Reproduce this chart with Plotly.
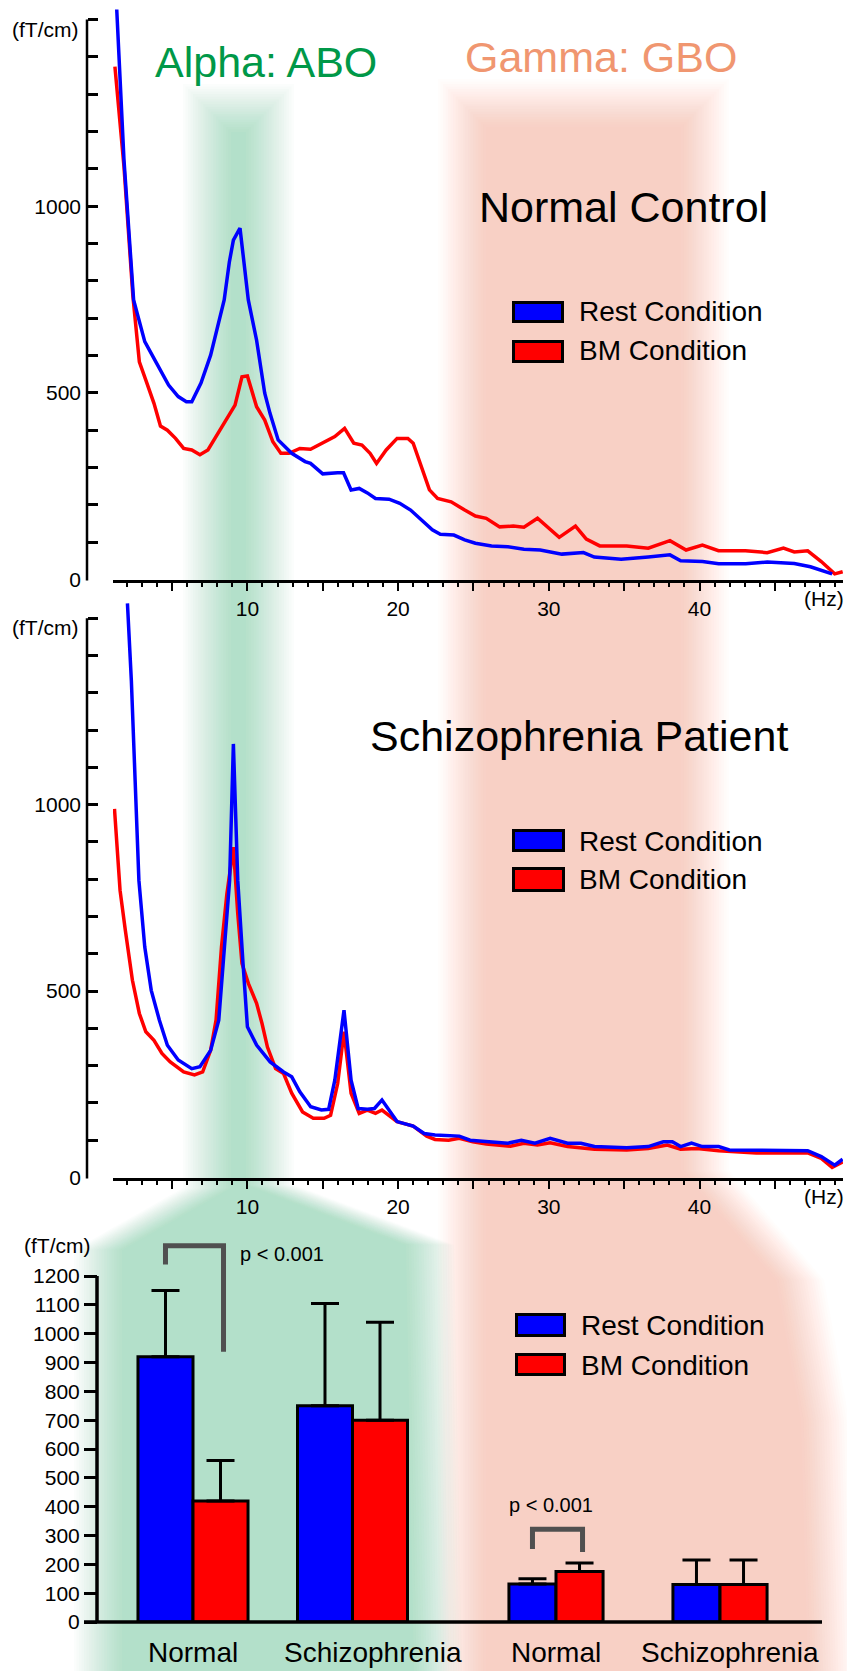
import plotly.graph_objects as go

W, H = 847, 1671
FIG_H = 1682  # rendered height; all vertical placement below is in paper fractions of H
FONT = "Liberation Sans, Arial, Helvetica, sans-serif"

# ---------------- data ----------------
# Normal Control spectra (Hz, fT/cm)
nc_rest_hz = [1.33, 1.81, 2.45, 3.19, 3.98, 4.77, 5.41, 5.95, 6.31, 6.92, 7.56, 8.10, 8.46, 8.80, 9.07, 9.51,
              10.06, 10.61, 11.15, 11.50, 12.04, 12.94, 13.83, 14.19, 15.00, 15.99, 16.38, 16.88, 17.42, 17.96,
              18.50, 19.40, 20.11, 20.83, 21.55, 22.27, 22.80, 23.70, 24.42, 25.13, 26.20, 27.28, 28.35, 29.43,
              30.87, 32.30, 33.02, 34.80, 36.60, 38.04, 38.75, 40.20, 41.27, 43.07, 44.50, 46.29, 47.36, 48.80]
nc_rest_val = [1527, 1124, 749, 637, 579, 521, 490, 476, 476, 526, 601, 686, 749, 850, 909, 941,
               749, 641, 499, 445, 374, 338, 316, 311, 283, 286, 286, 240, 244, 232,
               217, 215, 204, 186, 159, 133, 121, 119, 106, 97, 90, 88, 81, 79,
               68, 72, 60, 54, 60, 66, 50, 48, 42, 42, 47, 43, 34, 15]
nc_bm_hz = [1.21, 1.81, 2.40, 2.83, 3.26, 3.80, 4.23, 4.69, 5.23, 5.77, 6.31, 6.85, 7.38, 7.92, 8.57, 9.18,
            9.64, 10.00, 10.61, 11.15, 11.69, 12.22, 12.76, 13.48, 14.19, 15.00, 15.80, 16.45, 17.06, 17.60,
            18.14, 18.57, 19.21, 19.93, 20.65, 21.00, 21.55, 22.08, 22.62, 23.52, 24.42, 25.13, 25.85, 26.74,
            27.64, 28.35, 29.25, 29.97, 30.69, 31.77, 32.49, 33.38, 35.17, 36.60, 38.04, 39.11, 40.19, 41.26,
            43.05, 44.49, 45.57, 46.29, 47.18, 48.08, 48.97, 49.50]
nc_bm_val = [1374, 1106, 760, 583, 534, 472, 411, 400, 378, 351, 347, 334, 347, 383, 427, 467,
             543, 545, 463, 427, 369, 338, 338, 351, 349, 365, 383, 405, 365, 360,
             338, 311, 347, 378, 378, 365, 302, 240, 217, 208, 186, 170, 164, 141,
             143, 140, 164, 137, 113, 143, 108, 90, 90, 84, 104, 79, 92, 77,
             77, 72, 84, 74, 77, 48, 15, 21]

# Schizophrenia Patient spectra
sp_rest_hz = [2.04, 2.30, 2.55, 2.80, 3.19, 3.62, 4.16, 4.69, 5.41, 6.31, 6.85, 7.56, 8.10, 8.46, 8.82, 9.07,
              9.36, 9.71, 10.00, 10.61, 11.51, 12.40, 12.94, 13.48, 14.20, 14.91, 15.39, 15.80, 16.41, 16.88,
              17.35, 17.96, 18.43, 18.93, 19.40, 19.93, 21.00, 21.73, 22.45, 24.06, 24.78, 25.85, 27.28, 28.18,
              29.08, 30.09, 31.24, 32.13, 33.03, 35.17, 36.60, 37.60, 38.20, 38.75, 39.47, 40.19, 41.27, 41.98,
              43.77, 45.93, 47.18, 48.08, 48.97, 49.50]
sp_rest_val = [1540, 1333, 1065, 797, 618, 502, 422, 355, 315, 292, 297, 341, 422, 618, 797, 1163,
               797, 574, 404, 355, 310, 283, 270, 230, 190, 181, 183, 261, 449, 261,
               185, 183, 185, 208, 181, 150, 138, 118, 114, 111, 100, 96, 92, 100,
               92, 105, 92, 92, 83, 80, 83, 96, 96, 83, 92, 83, 83, 74,
               74, 74, 72, 56, 33, 49]
sp_bm_hz = [1.18, 1.55, 1.90, 2.37, 2.83, 3.26, 3.80, 4.33, 4.88, 5.77, 6.49, 7.03, 7.56, 7.92, 8.28, 8.64,
            9.07, 9.36, 9.64, 10.07, 10.61, 10.97, 11.33, 11.87, 12.40, 12.94, 13.66, 14.37, 15.09, 15.52,
            15.99, 16.41, 16.88, 17.42, 17.96, 18.50, 18.93, 19.40, 19.93, 21.00, 21.36, 21.90, 22.45, 23.35,
            24.06, 24.96, 25.85, 27.46, 28.35, 29.25, 30.09, 31.24, 33.03, 35.17, 36.60, 37.86, 38.75, 39.83,
            41.27, 43.77, 45.93, 47.18, 48.08, 48.80, 49.50]
sp_bm_val = [989, 770, 663, 529, 440, 391, 368, 333, 310, 283, 275, 283, 341, 422, 618, 761,
             886, 708, 574, 520, 467, 413, 350, 292, 279, 226, 176, 159, 159, 167,
             252, 391, 226, 172, 181, 172, 181, 167, 150, 138, 127, 111, 102, 100,
             105, 96, 90, 84, 92, 87, 93, 83, 76, 74, 78, 87, 76, 78,
             72, 66, 66, 66, 51, 27, 42]

# Bar chart (mean and upper error)
groups = ["Normal", "Schizophrenia"]
alpha_rest = [920, 750]
alpha_rest_err = [230, 355]
alpha_bm = [420, 700]
alpha_bm_err = [140, 340]
gamma_rest = [132, 130]
gamma_rest_err = [18, 85]
gamma_bm = [175, 130]
gamma_bm_err = [30, 85]

line_yticks = list(range(0, 1501, 100))
line_ylabels = {0: "0", 500: "500", 1000: "1000"}
hz_major = [5, 10, 15, 20, 25, 30, 35, 40, 45]
hz_labels = {10: "10", 20: "20", 30: "30", 40: "40"}
hz_minor = [h for h in range(2, 50) if h % 5]
bar_yticks = list(range(0, 1201, 100))

series_names = ["Rest Condition", "BM Condition"]
series_colors = ["#0000ff", "#ff0000"]

# ---------------- geometry helpers (pixel layout) ----------------
def fx(x):
    return x / W


def fy(y):
    return 1 - y / H


TOP = dict(base=579.5, scale=0.3733, top=0.0)
MID = dict(base=1177.5, scale=0.3728, top=595.0)
HZ0, HZPX = 96.7, 15.07
XL0, XL1 = 113.0, 843.0
BAR = dict(base=1622.0, scale=346.0 / 1200.0, top=1232.0)
BAR_PANELS = {
    "alpha": dict(x0=113.25, x1=432.25, w=0.345, xa="x3", ya="y3", shift=[0, 20]),
    "gamma": dict(x0=474.0, x1=802.0, w=0.287, xa="x4", ya="y4", shift=[0, 10]),
}


def cat_px(panel, i):
    p = BAR_PANELS[panel]
    step = (p["x1"] - p["x0"]) / len(groups)
    return p["x0"] + (i + 0.5) * step, step


def bar_py(v):
    return BAR["base"] - v * BAR["scale"]


fig = go.Figure()

# ---------------- spectra ----------------
for ax, (rh, rv, bh, bv) in [("", (nc_rest_hz, nc_rest_val, nc_bm_hz, nc_bm_val)),
                              ("2", (sp_rest_hz, sp_rest_val, sp_bm_hz, sp_bm_val))]:
    for hz, val, name, col in [(bh, bv, series_names[1], series_colors[1]),
                               (rh, rv, series_names[0], series_colors[0])]:
        fig.add_trace(go.Scatter(x=hz, y=val, mode="lines", name=name,
                                 line=dict(color=col, width=3.5),
                                 xaxis="x" + ax, yaxis="y" + ax, showlegend=False))

# ---------------- bars ----------------
for panel, rest, rest_e, bm, bm_e in [("alpha", alpha_rest, alpha_rest_err, alpha_bm, alpha_bm_err),
                                      ("gamma", gamma_rest, gamma_rest_err, gamma_bm, gamma_bm_err)]:
    p = BAR_PANELS[panel]
    for vals, errs, name, col, off in [(rest, rest_e, series_names[0], series_colors[0], -p["w"]),
                                       (bm, bm_e, series_names[1], series_colors[1], 0.0)]:
        fig.add_trace(go.Bar(x=groups, y=vals, name=name, width=p["w"], offset=off,
                             marker=dict(color=col, line=dict(color="black", width=3)),
                             error_y=dict(type="data", symmetric=False, array=errs,
                                          arrayminus=[0] * len(errs), color="black",
                                          thickness=3, width=14),
                             xaxis=p["xa"], yaxis=p["ya"], showlegend=False))

# ---------------- axes ----------------
def line_xaxis(anchor):
    return dict(domain=[fx(XL0), fx(XL1)],
                range=[(XL0 - HZ0) / HZPX, (XL1 - HZ0) / HZPX],
                anchor=anchor, showgrid=False, zeroline=False,
                showline=True, linecolor="black", linewidth=2.5,
                ticks="outside", ticklen=9, tickwidth=2, tickcolor="black",
                tickmode="array", tickvals=hz_major,
                ticktext=[hz_labels.get(h, "") for h in hz_major],
                minor=dict(tickmode="array", tickvals=hz_minor, ticks="outside",
                           ticklen=5, tickwidth=1.5, tickcolor="black"),
                tickfont=dict(size=21, color="black", family=FONT))


def line_yaxis(panel):
    top_val = (panel["base"] - panel["top"]) / panel["scale"]
    return dict(domain=[fy(panel["base"]), fy(panel["top"])], range=[0, top_val],
                anchor="free", position=fx(87), showgrid=False, zeroline=False,
                showline=False, ticks="inside", ticklen=10, tickwidth=2.5,
                tickcolor="black", tickmode="array", tickvals=line_yticks,
                ticktext=[line_ylabels.get(v, "") for v in line_yticks],
                ticklabelstandoff=6,
                tickfont=dict(size=21, color="black", family=FONT))


bar_top_val = (BAR["base"] - BAR["top"]) / BAR["scale"]
fig.update_layout(
    xaxis=line_xaxis("y"), yaxis=line_yaxis(TOP),
    xaxis2=line_xaxis("y2"), yaxis2=line_yaxis(MID),
    xaxis3=dict(domain=[fx(BAR_PANELS["alpha"]["x0"]), fx(BAR_PANELS["alpha"]["x1"])],
                type="category", range=[-0.5, len(groups) - 0.5], anchor="y3",
                showgrid=False, zeroline=False, showline=False, ticks="",
                showticklabels=False),
    xaxis4=dict(domain=[fx(BAR_PANELS["gamma"]["x0"]), fx(BAR_PANELS["gamma"]["x1"])],
                type="category", range=[-0.5, len(groups) - 0.5], anchor="y4",
                showgrid=False, zeroline=False, showline=False, ticks="",
                showticklabels=False),
    yaxis3=dict(domain=[fy(BAR["base"]), fy(BAR["top"])], range=[0, bar_top_val],
                anchor="free", position=fx(97), showgrid=False, zeroline=False,
                showline=False, ticks="outside", ticklen=13, tickwidth=3,
                tickcolor="black", tickmode="array", tickvals=bar_yticks,
                tickfont=dict(size=21, color="black", family=FONT)),
    yaxis4=dict(domain=[fy(BAR["base"]), fy(BAR["top"])], range=[0, bar_top_val],
                anchor="x4", visible=False),
)

# ---------------- decorations ----------------
shapes = []


def band_shapes(poly, color, R=24, N=20):
    out = []
    for k in range(N):
        d = -R + 2 * R * k / (N - 1)
        pts = poly(d)
        path = "M " + " L ".join(f"{fx(x):.5f},{fy(min(y, H)):.5f}" for x, y in pts) + " Z"
        out.append(dict(type="path", xref="paper", yref="paper", path=path,
                        fillcolor=color, line=dict(width=0),
                        opacity=1.0 / (N - k), layer="below"))
    return out


def green_poly(d):
    return [(207 + d, 108 + d), (270 - d, 108 + d), (270 - d, 1185), (430 - d, 1245),
            (438 - d, H), (98 + d, H), (98 + d, 1250), (207 + d, 1188)]


def peach_poly(d):
    return [(462 + d, 103 + d), (705 - d, 103 + d), (705 - d, 1170), (800 - d, 1280),
            (825 - d, 1420), (832 - d, H), (462 + d, H)]


shapes += band_shapes(green_poly, "rgb(179,224,202)")
shapes += band_shapes(peach_poly, "rgb(248,208,197)")


def vline(x, y0, y1, w):
    return dict(type="line", xref="paper", yref="paper", x0=fx(x), x1=fx(x),
                y0=fy(y0), y1=fy(y1), line=dict(color="black", width=w), layer="above")


for panel in (TOP, MID):
    shapes.append(vline(87, panel["base"] + 1, panel["base"] - 1500 * panel["scale"], 2.5))
shapes.append(vline(97, BAR["base"] + 1, bar_py(1200), 3.5))
shapes.append(dict(type="line", xref="paper", yref="paper", x0=fx(84), x1=fx(822),
                   y0=fy(BAR["base"]), y1=fy(BAR["base"]),
                   line=dict(color="black", width=3.5), layer="above"))

# significance brackets: (panel, group index, left-leg bottom, top, right-leg bottom)
brackets = [("alpha", 0, 1240, 1305, 937), ("gamma", 0, 253, 322, 243)]
for panel, gi, yl, yt, yr in brackets:
    c, step = cat_px(panel, gi)
    half = BAR_PANELS[panel]["w"] * step / 2
    xl, xr = c - half, c + half + 3
    path = (f"M {fx(xl):.5f},{fy(bar_py(yl)):.5f} L {fx(xl):.5f},{fy(bar_py(yt)):.5f} "
            f"L {fx(xr):.5f},{fy(bar_py(yt)):.5f} L {fx(xr):.5f},{fy(bar_py(yr)):.5f}")
    shapes.append(dict(type="path", xref="paper", yref="paper", path=path,
                       line=dict(color="rgb(80,80,80)", width=5), layer="above"))

legend_rows = [(512, 564, [(301, 323), (340, 363)], 577, [312, 351]),
               (512, 565, [(829, 852), (867, 892)], 577, [841, 880]),
               (515, 566, [(1313, 1337), (1353, 1376)], 579, [1325, 1365])]
annotations = []
for x0, x1, boxes, tx, tys in legend_rows:
    for (y0, y1), ty, name, col in zip(boxes, tys, series_names, series_colors):
        shapes.append(dict(type="rect", xref="paper", yref="paper",
                           x0=fx(x0 + 1.5), x1=fx(x1 - 1.5), y0=fy(y0 + 1.5), y1=fy(y1 - 1.5),
                           fillcolor=col, line=dict(color="black", width=3), layer="above"))
        annotations.append(dict(text=name, x=fx(tx), y=fy(ty), xref="paper", yref="paper",
                                xanchor="left", yanchor="middle", showarrow=False,
                                font=dict(size=28, color="black", family=FONT)))


def ann(text, x, y, size, color="black", xanchor="center"):
    annotations.append(dict(text=text, x=fx(x), y=fy(y), xref="paper", yref="paper",
                            xanchor=xanchor, yanchor="middle", showarrow=False,
                            font=dict(size=size, color=color, family=FONT)))


ann("Alpha: ABO", 266, 62, 43, "rgb(0,152,72)")
ann("Gamma: GBO", 601, 57, 43, "rgb(240,150,112)")
ann("Normal Control", 623, 207, 43)
ann("Schizophrenia Patient", 579, 736, 43)
ann("(fT/cm)", 80, 30, 21, xanchor="right")
ann("(fT/cm)", 80, 627, 21, xanchor="right")
ann("(fT/cm)", 57, 1245, 21)
ann("(Hz)", 824, 599, 21)
ann("(Hz)", 824, 1196, 21)
ann("p < 0.001", 238, 1254, 20, xanchor="left")
ann("p < 0.001", 551, 1505, 20)

for panel, p in BAR_PANELS.items():
    for i, g in enumerate(groups):
        c, _ = cat_px(panel, i)
        ann(g, c + p["shift"][i], 1652, 28)

fig.update_layout(
    width=W, height=FIG_H, autosize=False,
    margin=dict(l=0, r=0, t=0, b=0, pad=0),
    paper_bgcolor="white", plot_bgcolor="rgba(0,0,0,0)",
    barmode="overlay", showlegend=False,
    font=dict(family=FONT, color="black"),
    shapes=shapes, annotations=annotations,
)

page_fix = ("document.documentElement.style.margin='0px';"
            "document.body.style.margin='0px';")
fig.write_html("out.html", config={"displayModeBar": False}, post_script=page_fix)
